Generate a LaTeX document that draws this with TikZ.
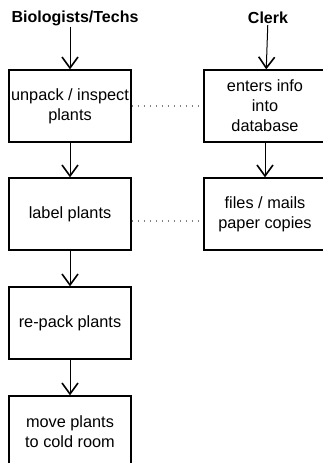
\documentclass[tikz,border=0pt]{standalone}
\usepackage{fontspec}
\setmainfont{Liberation Sans}
\usetikzlibrary{arrows.meta, positioning}

\begin{document}
\begin{tikzpicture}[x=1pt, y=-1pt,
    box/.style={draw, line width=1.3pt, minimum width=122pt, minimum height=72pt, inner sep=0pt, align=center, font=\fontsize{16.3}{20}\selectfont},
    title/.style={font=\bfseries\fontsize{16}{18}\selectfont, inner sep=1pt},
    flow/.style={line width=1pt, -{Straight Barb[length=11pt, width=16pt, line width=1.6pt]}},
    link/.style={gray, line width=1.5pt, dash pattern=on 1.5pt off 4.5pt}]

% frame
\useasboundingbox (0,0) rectangle (323,463);

% Column heads
\node[title] (bio) at (75,18) {Biologists/Techs};
\node[title] (clerk) at (268,18) {Clerk};

% Biologists/Techs column
\node[box] (unpack) at (70,106) {unpack / inspect\\plants};
\node[box] (label) at (70,214) {label plants};
\node[box] (repack) at (70,323) {re-pack plants};
\node[box] (move) at (70,432) {move plants\\to cold room};

% Clerk column
\node[box] (enter) at (265,106) {enters info\\into\\database};
\node[box] (files) at (265,214) {files / mails\\paper copies};

% Arrows down
\draw[flow] (unpack |- bio.south) -- (unpack);
\draw[flow] (unpack) -- (label);
\draw[flow] (label) -- (repack);
\draw[flow] (repack) -- (move);
\draw[flow] (clerk) -- (enter);
\draw[flow] (enter) -- (files);

% Dotted links
\draw[link] (unpack.east) -- (enter.west);
\draw[link] ([yshift=-7pt]label.east) -- ([yshift=-7pt]files.west);

\end{tikzpicture}
\end{document}
